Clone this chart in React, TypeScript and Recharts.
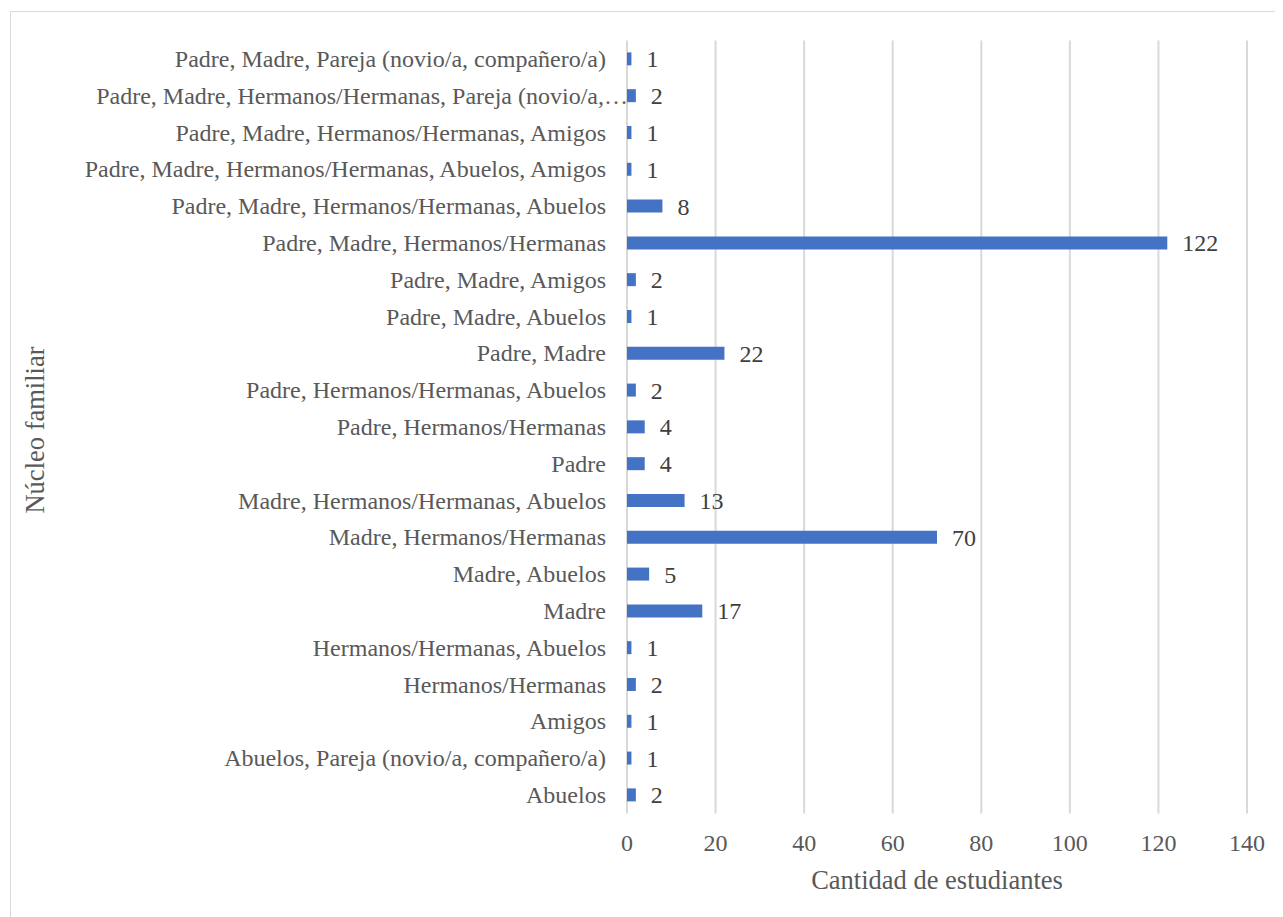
import React from "react";
import { BarChart, Bar, XAxis, YAxis, CartesianGrid, LabelList, Label } from "recharts";

const categories = [
  "Padre, Madre, Pareja (novio/a, compañero/a)",
  "Padre, Madre, Hermanos/Hermanas, Pareja (novio/a, compañero/a)",
  "Padre, Madre, Hermanos/Hermanas, Amigos",
  "Padre, Madre, Hermanos/Hermanas, Abuelos, Amigos",
  "Padre, Madre, Hermanos/Hermanas, Abuelos",
  "Padre, Madre, Hermanos/Hermanas",
  "Padre, Madre, Amigos",
  "Padre, Madre, Abuelos",
  "Padre, Madre",
  "Padre, Hermanos/Hermanas, Abuelos",
  "Padre, Hermanos/Hermanas",
  "Padre",
  "Madre, Hermanos/Hermanas, Abuelos",
  "Madre, Hermanos/Hermanas",
  "Madre, Abuelos",
  "Madre",
  "Hermanos/Hermanas, Abuelos",
  "Hermanos/Hermanas",
  "Amigos",
  "Abuelos, Pareja (novio/a, compañero/a)",
  "Abuelos",
];
const values = [1, 2, 1, 1, 8, 122, 2, 1, 22, 2, 4, 4, 13, 70, 5, 17, 1, 2, 1, 1, 2];
const xTicks = [0, 20, 40, 60, 80, 100, 120, 140];
const xTitle = "Cantidad de estudiantes";
const yTitle = "Núcleo familiar";

const data = categories.map((c, i) => ({ name: c, value: values[i] }));

const FONT = "Liberation Serif";
const FS = 24;
const TITLE_FS = 26.5;
const MAXLEN = 49;

const YTick = (props: any) => {
  const { x, y, payload } = props;
  const s: string = payload.value;
  const truncated = s.length > MAXLEN;
  const text = truncated ? s.slice(0, MAXLEN) + "…" : s;
  return (
    <text
      x={x + (truncated ? 22 : 0)}
      y={y}
      textAnchor="end"
      dominantBaseline="central"
      fill="#595959"
      fontSize={FS}
      style={{ fontFamily: FONT }}
    >
      {text}
    </text>
  );
};

export default function App() {
  return (
    <div style={{ position: "relative", width: 1275, height: 909, overflow: "hidden", fontFamily: FONT }}>
      <div
        style={{
          position: "absolute",
          left: 2,
          top: 3,
          width: 1400,
          height: 1000,
          border: "1.5px solid #d9d9d9",
          boxSizing: "border-box",
        }}
      />
      <BarChart
        width={1275}
        height={909}
        data={data}
        layout="vertical"
        margin={{ top: 32.6, right: 36, bottom: 13.6, left: 40 }}
        barCategoryGap="32%"
        style={{ position: "absolute", left: 0, top: 0, fontFamily: FONT }}
      >
        <CartesianGrid horizontal={false} vertical={true} stroke="#d9d9d9" strokeWidth={2} />
        <XAxis
          type="number"
          domain={[0, 140]}
          ticks={xTicks}
          axisLine={false}
          tickLine={false}
          tickMargin={15}
          height={90}
          tick={{ fill: "#595959", fontSize: FS, fontFamily: FONT }}
        >
          <Label
            content={(props: any) => {
              const vb = props.viewBox;
              return (
                <text
                  x={vb.x + vb.width / 2}
                  y={872}
                  textAnchor="middle"
                  dominantBaseline="central"
                  fill="#595959"
                  fontSize={TITLE_FS}
                  style={{ fontFamily: FONT }}
                >
                  {xTitle}
                </text>
              );
            }}
          />
        </XAxis>
        <YAxis
          type="category"
          dataKey="name"
          width={579}
          axisLine={false}
          tickLine={false}
          tickMargin={15}
          interval={0}
          tick={<YTick />}
        >
          <Label
            content={(props: any) => {
              const vb = props.viewBox;
              const cx = 27;
              const cy = vb.y + vb.height / 2 + 3;
              return (
                <text
                  x={cx}
                  y={cy}
                  transform={`rotate(-90, ${cx}, ${cy})`}
                  textAnchor="middle"
                  dominantBaseline="central"
                  fill="#595959"
                  fontSize={TITLE_FS}
                  style={{ fontFamily: FONT }}
                >
                  {yTitle}
                </text>
              );
            }}
          />
        </YAxis>
        <Bar dataKey="value" fill="#4472C4" isAnimationActive={false}>
          <LabelList
            dataKey="value"
            position="right"
            offset={15}
            fill="#404040"
            fontSize={FS}
            fontFamily={FONT}
          />
        </Bar>
      </BarChart>
    </div>
  );
}
